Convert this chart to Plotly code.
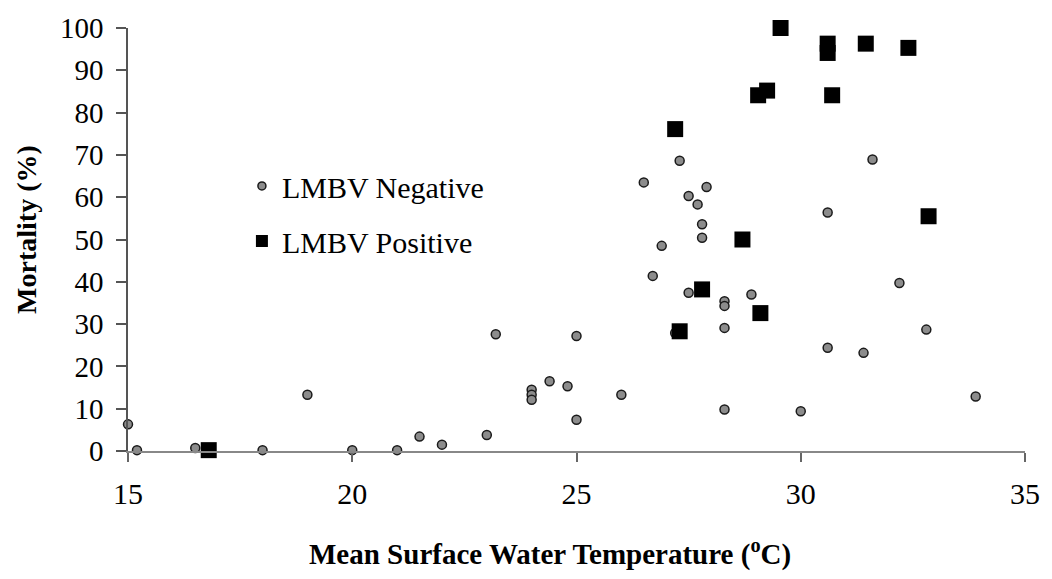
import plotly.graph_objects as go

# Mean surface water temperature (°C) and mortality (%) for each kill event
neg_temp = [15.0, 15.2, 16.5, 18.0, 19.0, 20.0, 21.0, 21.5, 22.0, 23.0,
            23.2, 24.0, 24.0, 24.0, 24.4, 24.8, 25.0, 25.0, 26.0, 26.5,
            26.7, 26.9, 27.2, 27.3, 27.5, 27.5, 27.7, 27.8, 27.8, 27.9,
            28.3, 28.3, 28.3, 28.3, 28.9, 30.0, 30.6, 30.6, 31.4, 31.6,
            32.2, 32.8, 33.9]
neg_mort = [6.3, 0.2, 0.7, 0.2, 13.3, 0.2, 0.2, 3.4, 1.5, 3.8,
            27.6, 14.5, 13.3, 12.1, 16.5, 15.3, 27.2, 7.4, 13.3, 63.5,
            41.4, 48.5, 27.9, 68.6, 60.3, 37.4, 58.3, 53.6, 50.4, 62.4,
            35.4, 34.3, 29.1, 9.8, 37.0, 9.4, 56.4, 24.4, 23.2, 68.9,
            39.7, 28.7, 12.9]

pos_temp = [16.8, 27.2, 27.3, 27.8, 28.7, 29.05, 29.1, 29.25, 29.55,
            30.6, 30.6, 30.7, 31.45, 32.4, 32.85]
pos_mort = [0.2, 76.1, 28.3, 38.2, 50.0, 84.1, 32.6, 85.2, 100.0,
            96.3, 94.1, 84.1, 96.3, 95.3, 55.5]

x_ticks = [15, 20, 25, 30, 35]
y_ticks = [0, 10, 20, 30, 40, 50, 60, 70, 80, 90, 100]

SERIF = "Liberation Serif, Times New Roman, serif"

NEG_STYLE = dict(symbol="circle", color="#8c8c8c", line=dict(color="#1a1a1a", width=1.5))
POS_STYLE = dict(symbol="square", color="#000000", line=dict(width=0))

fig = go.Figure()
fig.add_trace(go.Scatter(
    x=neg_temp, y=neg_mort, mode="markers", name="LMBV Negative",
    showlegend=False, marker=dict(size=9, **NEG_STYLE), cliponaxis=False,
))
fig.add_trace(go.Scatter(
    x=pos_temp, y=pos_mort, mode="markers", name="LMBV Positive",
    showlegend=False, marker=dict(size=16, **POS_STYLE), cliponaxis=False,
))
# Legend keys use smaller symbols than the plotted markers
fig.add_trace(go.Scatter(
    x=[None], y=[None], mode="markers", name="LMBV Negative",
    legendgroup="neg", marker=dict(size=8, **NEG_STYLE),
))
fig.add_trace(go.Scatter(
    x=[None], y=[None], mode="markers", name="LMBV Positive",
    legendgroup="pos", marker=dict(size=12, **POS_STYLE),
))

fig.update_layout(
    width=1052, height=579,
    margin=dict(l=128, r=20, t=24, b=128),
    paper_bgcolor="white", plot_bgcolor="white",
    font=dict(family=SERIF, size=29, color="#000000"),
    showlegend=True,
    legend=dict(
        x=0.127, y=0.688, xanchor="left", yanchor="top",
        bgcolor="rgba(0,0,0,0)", borderwidth=0,
        font=dict(family=SERIF, size=30, color="#000000"),
        traceorder="grouped", tracegroupgap=13,
    ),
    xaxis=dict(
        range=[15, 35], tickmode="array", tickvals=x_ticks,
        ticktext=[str(v) for v in x_ticks],
        showgrid=False, zeroline=False,
        showline=True, linecolor="#888888", linewidth=1.5,
        ticks="outside", ticklen=9, tickwidth=1.5, tickcolor="#666666",
        ticklabelstandoff=6,
        tickfont=dict(family=SERIF, size=30),
    ),
    yaxis=dict(
        range=[0, 100], tickmode="array", tickvals=y_ticks,
        ticktext=[str(v) for v in y_ticks],
        showgrid=False, zeroline=False,
        showline=True, linecolor="#555555", linewidth=1.5,
        ticks="outside", ticklen=10, tickwidth=1.5, tickcolor="#555555",
        ticklabelstandoff=7,
        tickfont=dict(family=SERIF, size=29),
    ),
    annotations=[
        dict(text="<b>Mean Surface Water Temperature (<sup>o</sup>C)</b>",
             xref="paper", yref="paper", x=(553 - 128) / 904, y=(451 - 553) / 427,
             xanchor="center", yanchor="middle", showarrow=False,
             font=dict(family=SERIF, size=29, color="#000000")),
        dict(text="<b>Mortality (%)</b>", textangle=-90,
             xref="paper", yref="paper", x=(25 - 128) / 904, y=(451 - 227) / 427,
             xanchor="center", yanchor="middle", showarrow=False,
             font=dict(family=SERIF, size=28, color="#000000")),
    ],
)

fig.write_html("out.html")
